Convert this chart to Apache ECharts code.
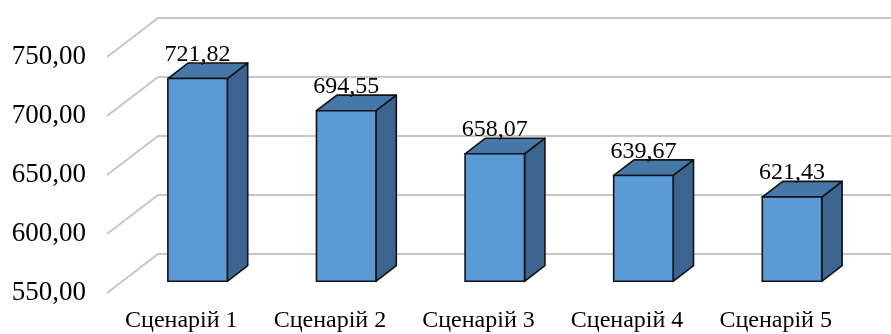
<!DOCTYPE html>
<html>
<head>
<meta charset="utf-8">
<script src="https://cdn.jsdelivr.net/npm/echarts@6/dist/echarts.min.js"></script>
<style>
html,body{margin:0;padding:0;background:#fff;}
#main{width:891px;height:334px;}
</style>
</head>
<body>
<div id="main"></div>
<script>
var categories = ['Сценарій 1', 'Сценарій 2', 'Сценарій 3', 'Сценарій 4', 'Сценарій 5'];
var values = [721.82, 694.55, 658.07, 639.67, 621.43];
var yTicks = [550, 600, 650, 700, 750];

var FONT = '"Liberation Serif", "Times New Roman", serif';
var DX = 51, DY = -39;          // depth projection of the 3D box
var BAR_T0 = 0.3, BAR_T1 = 0.7; // bar depth range within floor depth
var BAR_W = 0.4;                // bar width as fraction of band

function fmt(v) { return v.toFixed(2).replace('.', ','); }

var chart = echarts.init(document.getElementById('main'));
chart.setOption({
  animation: false,
  backgroundColor: '#ffffff',
  grid: { left: 107, right: 41, top: 57, bottom: 41 },
  xAxis: {
    type: 'category',
    data: categories,
    axisLine: { show: false },
    axisTick: { show: false },
    splitLine: { show: false },
    axisLabel: { fontFamily: FONT, fontSize: 24, color: '#000', margin: 16 }
  },
  yAxis: {
    type: 'value',
    min: 550, max: 750, interval: 50,
    axisLine: { show: false },
    axisTick: { show: false },
    splitLine: { show: false },
    axisLabel: { fontFamily: FONT, fontSize: 27, color: '#000', margin: 21, formatter: function (v) { return fmt(v); } }
  },
  series: [
    {
      type: 'custom',
      clip: false,
      silent: true,
      z: 1,
      data: yTicks.map(function (v) { return [0, v]; }),
      renderItem: function (params, api) {
        var cs = params.coordSys;
        var y = api.coord([0, api.value(1)])[1];
        var x0 = cs.x, x1 = cs.x + cs.width;
        return {
          type: 'polyline',
          shape: { points: [[x0, y], [x0 + DX, y + DY], [x1 + DX, y + DY]] },
          style: { stroke: '#c6c6c6', lineWidth: 2, fill: null }
        };
      }
    },
    {
      type: 'custom',
      clip: false,
      silent: true,
      z: 2,
      data: values.map(function (v, i) { return [i, v]; }),
      renderItem: function (params, api) {
        var i = api.value(0), v = api.value(1);
        var top = api.coord([i, v]);
        var base = api.coord([i, 550]);
        var bw = api.size([1, 0])[0] * BAR_W;
        var ox = BAR_T0 * DX, oy = BAR_T0 * DY;
        var dx = (BAR_T1 - BAR_T0) * DX, dy = (BAR_T1 - BAR_T0) * DY;
        var xl = top[0] - bw / 2 + ox + 1, xr = xl + bw;
        var yt = top[1] + oy, yb = base[1] + oy;
        var stroke = '#111';
        var lw = 1.6;
        return {
          type: 'group',
          children: [
            { type: 'polygon', shape: { points: [[xr, yt], [xr + dx, yt + dy], [xr + dx, yb + dy], [xr, yb]] },
              style: { fill: '#3b6590', stroke: stroke, lineWidth: lw, lineJoin: 'round' } },
            { type: 'polygon', shape: { points: [[xl, yt], [xl + dx, yt + dy], [xr + dx, yt + dy], [xr, yt]] },
              style: { fill: '#4577a8', stroke: stroke, lineWidth: lw, lineJoin: 'round' } },
            { type: 'rect', shape: { x: xl, y: yt, width: bw, height: yb - yt },
              style: { fill: '#5b9bd5', stroke: stroke, lineWidth: lw } },
            { type: 'text', x: xl + bw / 2, y: yt - 24,
              style: { text: fmt(v), font: '24px ' + FONT, fill: '#000', align: 'center', verticalAlign: 'middle' } }
          ]
        };
      }
    }
  ]
});
</script>
</body>
</html>
